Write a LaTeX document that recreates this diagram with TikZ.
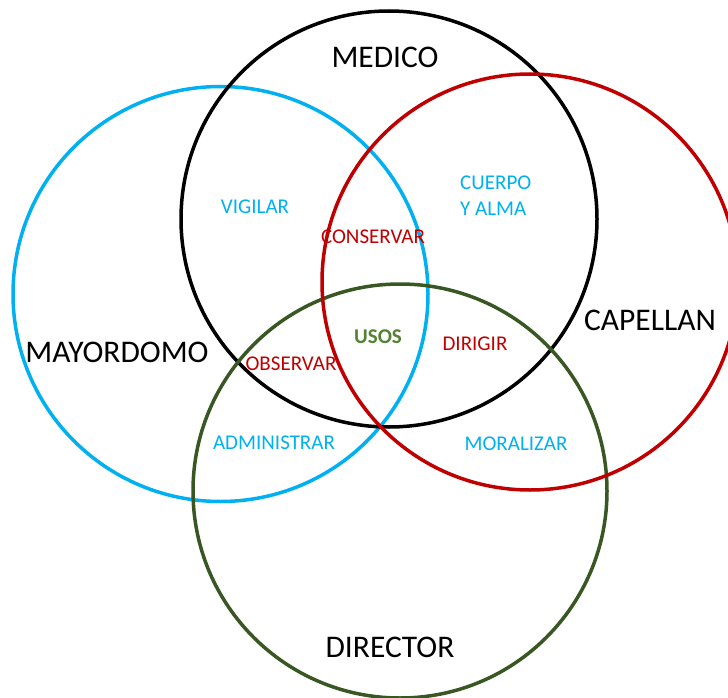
\documentclass[tikz,border=0pt]{standalone}
\usepackage{fontspec}
\setmainfont{Carlito}
\definecolor{cblue}{HTML}{00B0F0}
\definecolor{cred}{HTML}{C00000}
\definecolor{cgreen}{HTML}{385723}
\definecolor{tgreen}{HTML}{548235}
\begin{document}
\begin{tikzpicture}[x=1pt,y=-1pt,
  ring/.style={line width=3.5pt},
  big/.style={font=\fontsize{31.5}{38}\selectfont, text=black, inner sep=0pt},
  small/.style={font=\fontsize{21}{26}\selectfont, inner sep=0pt},
  bluetext/.style={small, text=cblue},
  redtext/.style={small, text=cred}]
\useasboundingbox (0,0) rectangle (728,698);
\begin{scope}
\clip (0,0) rectangle (728,698);
\draw[ring, cblue] (220.5,294) circle (207.5);
\draw[ring, black] (389,219) circle (208);
\draw[ring, cgreen] (400,491) circle (207);
\draw[ring, cred] (530,282) circle (208);
\end{scope}
\node[big] (medico) at (385,57) {MEDICO};
\node[big] (mayordomo) at (117,352) {MAYORDOMO};
\node[big] (capellan) at (650,320) {CAPELLAN};
\node[big] (director) at (390,647) {DIRECTOR};
\node[bluetext] (vigilar) at (255,207) {VIGILAR};
\node[bluetext, align=left, anchor=west, font=\fontsize{21}{26}\selectfont] (cuerpo) at (460,196) {CUERPO\\Y ALMA};
\node[redtext] (conservar) at (373,237) {CONSERVAR};
\node[small, text=tgreen, font=\bfseries\fontsize{21}{26}\selectfont] (usos) at (378,337) {USOS};
\node[redtext] (dirigir) at (475,344) {DIRIGIR};
\node[redtext] (observar) at (291,364) {OBSERVAR};
\node[bluetext] (administrar) at (274,443) {ADMINISTRAR};
\node[bluetext] (moralizar) at (516,444) {MORALIZAR};
\end{tikzpicture}
\end{document}
